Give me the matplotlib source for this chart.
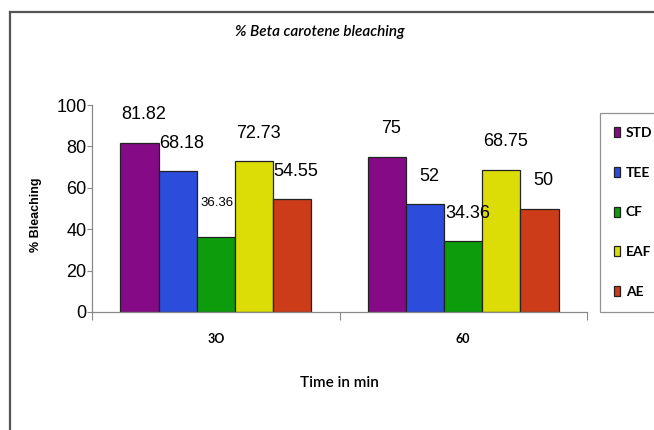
import matplotlib.pyplot as plt
import numpy as np
from matplotlib.lines import Line2D

times = ["3O", "60"]
extracts = ["STD", "TEE", "CF", "EAF", "AE"]
bleaching = {
    "STD": [81.82, 75],
    "TEE": [68.18, 52],
    "CF": [36.36, 34.36],
    "EAF": [72.73, 68.75],
    "AE": [54.55, 50],
}
colors = ["#850a85", "#2c4cdc", "#0c9c0c", "#dcdc06", "#cc3c18"]

fig = plt.figure(figsize=(6.54, 4.30), dpi=100)
ax = fig.add_axes([92 / 654, 1 - 312 / 430, 495 / 654, 207 / 430])

x = np.arange(len(times))
width = 0.154
num_font = ['Liberation Sans Narrow', 'Liberation Sans', 'DejaVu Sans']

for i, name in enumerate(extracts):
    pos = x + (i - 2) * width
    vals = bleaching[name]
    ax.bar(pos, vals, width, color=colors[i], edgecolor="#222222",
           linewidth=0.9, label=name)
    for j, (px, v) in enumerate(zip(pos, vals)):
        small = (name == "CF" and j == 0)
        ax.annotate(f"{v:g}", (px, v), xytext=(3 if not small else 1, 20 if not small else 24),
                    textcoords="offset points", ha="center", va="center",
                    fontsize=9.5 if small else 13, family=num_font)

ax.set_xlim(-0.5, 1.5)
ax.set_ylim(0, 100)
ax.set_yticks([0, 20, 40, 60, 80, 100])
ax.set_yticklabels(["0", "20", "40", "60", "80", "100"], family=num_font, fontsize=13)
ax.tick_params(axis="y", length=3.5, width=0.8, color="#888888", pad=0.5)

# category boundaries carry the x ticks, names sit between them
ax.set_xticks([-0.5, 0.5, 1.5])
ax.set_xticklabels([])
ax.tick_params(axis="x", length=6, width=0.8, color="#888888")
for xi, t in zip(x, times):
    ax.text(xi, -13, t, ha="center", va="center", fontsize=9,
            fontweight="bold", family="Lato")

for s in ["top", "right"]:
    ax.spines[s].set_visible(False)
for s in ["left", "bottom"]:
    ax.spines[s].set_color("#888888")
    ax.spines[s].set_linewidth(0.9)

fig.text(320 / 654, 1 - 32 / 430, "% Beta carotene bleaching", ha="center",
         va="center", fontsize=11, style="italic", fontweight="semibold", family="Lato")
fig.text(36 / 654, 1 - 215 / 430, "% Bleaching", rotation=90, ha="center",
         va="center", fontsize=9, fontweight="bold", family="Liberation Sans")
fig.text(339 / 654, 1 - 383 / 430, "Time in min", ha="center", va="center",
         fontsize=11, fontweight="semibold", family="Lato")

leg = fig.legend(loc="upper left", bbox_to_anchor=(600 / 654, 1 - 113 / 430),
                 frameon=True, fancybox=False, borderaxespad=0,
                 handlelength=0.45, handleheight=0.75, handletextpad=0.4,
                 labelspacing=2.0, borderpad=1.0,
                 prop={"family": "Lato", "weight": "bold", "size": 10})
leg.get_frame().set_edgecolor("#777777")
leg.get_frame().set_linewidth(0.9)

# outer frame around the chart
fig.add_artist(Line2D([10 / 654, 10 / 654], [0, 1 - 12 / 430], color="#555555",
                      lw=1.6, transform=fig.transFigure))
fig.add_artist(Line2D([10 / 654, 1], [1 - 12 / 430, 1 - 12 / 430], color="#555555",
                      lw=1.6, transform=fig.transFigure))

fig.savefig("out.png", dpi=100)
